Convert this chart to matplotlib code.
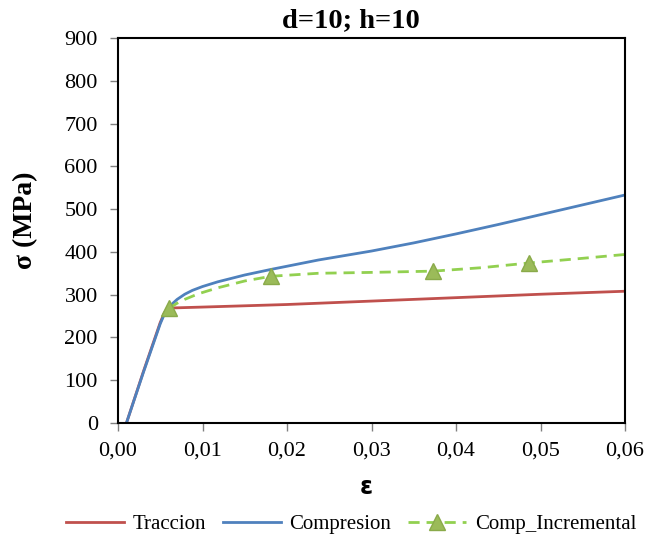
import matplotlib.pyplot as plt
from matplotlib.ticker import FuncFormatter

# strain / stress curves (MPa)
eps_trac = [0.001, 0.003, 0.005, 0.0055, 0.006, 0.0065, 0.01, 0.02, 0.03, 0.04, 0.05, 0.06]
sig_trac = [0, 120, 235, 258, 266, 269, 271, 277, 285, 293, 301, 308]

eps_comp = [0.001, 0.003, 0.005, 0.0055, 0.006, 0.0065, 0.007, 0.0079, 0.0088, 0.01,
            0.0118, 0.015, 0.0181, 0.0237, 0.03, 0.035, 0.04, 0.045, 0.05, 0.055, 0.06]
sig_comp = [0, 118, 232, 255, 269, 280, 289, 301, 310, 319,
            330, 346, 359, 381, 402, 421, 442, 464, 487, 510, 533]

eps_inc = [0.006, 0.007, 0.0079, 0.0095, 0.0118, 0.015, 0.0181, 0.0237, 0.0298, 0.0373,
           0.043, 0.0486, 0.055, 0.06]
sig_inc = [268, 280, 289, 302, 316, 332, 343, 350, 352, 355, 363, 374, 385, 394]
inc_markers = [0, 6, 9, 11]

plt.rcParams['font.family'] = ['Liberation Serif', 'DejaVu Serif']

fig = plt.figure(figsize=(6.47, 5.37), dpi=100)
ax = fig.add_axes([118 / 647, 1 - 423 / 537, 507 / 647, 385 / 537])

ax.plot(eps_trac, sig_trac, color='#C0504D', lw=2, label='Traccion')
ax.plot(eps_comp, sig_comp, color='#4F81BD', lw=2, label='Compresion')
ax.plot(eps_inc, sig_inc, color='#92D050', lw=2, ls=(0, (4, 2.5)),
        marker='^', ms=11, markevery=inc_markers,
        mfc='#9BBB59', mec='#8AAA4A', label='Comp_Incremental')

ax.set_xlim(0, 0.06)
ax.set_ylim(0, 900)
ax.set_xticks([0, 0.01, 0.02, 0.03, 0.04, 0.05, 0.06])
ax.set_yticks(range(0, 901, 100))
ax.xaxis.set_major_formatter(FuncFormatter(lambda v, p: f'{v:.2f}'.replace('.', ',')))
ax.tick_params(direction='out', length=5.5, width=1, color='#808080', labelsize=16)
ax.tick_params(axis='y', pad=9)
ax.tick_params(axis='x', pad=8)
for s in ax.spines.values():
    s.set_linewidth(1.5)
    s.set_color('black')

# titles are centred on the whole chart area, not on the plot box
ax.set_title('d=10; h=10', fontsize=20.5, fontweight='bold', x=0.46, y=1.0, pad=8)
ax.set_xlabel('ε', fontsize=17, fontweight='bold', family='DejaVu Sans')
ax.xaxis.set_label_coords(0.49, -0.135)
ax.xaxis.label.set_va('top')
ax.set_ylabel('σ (MPa)', fontsize=20, fontweight='bold')
ax.yaxis.set_label_coords(-0.158, 0.527)

fig.legend(loc='center', bbox_to_anchor=(351 / 647, 1 - 524 / 537), ncol=3, frameon=False,
           fontsize=15, handlelength=2.8, columnspacing=0.8, handletextpad=0.4)

fig.savefig('out.png', dpi=100)
